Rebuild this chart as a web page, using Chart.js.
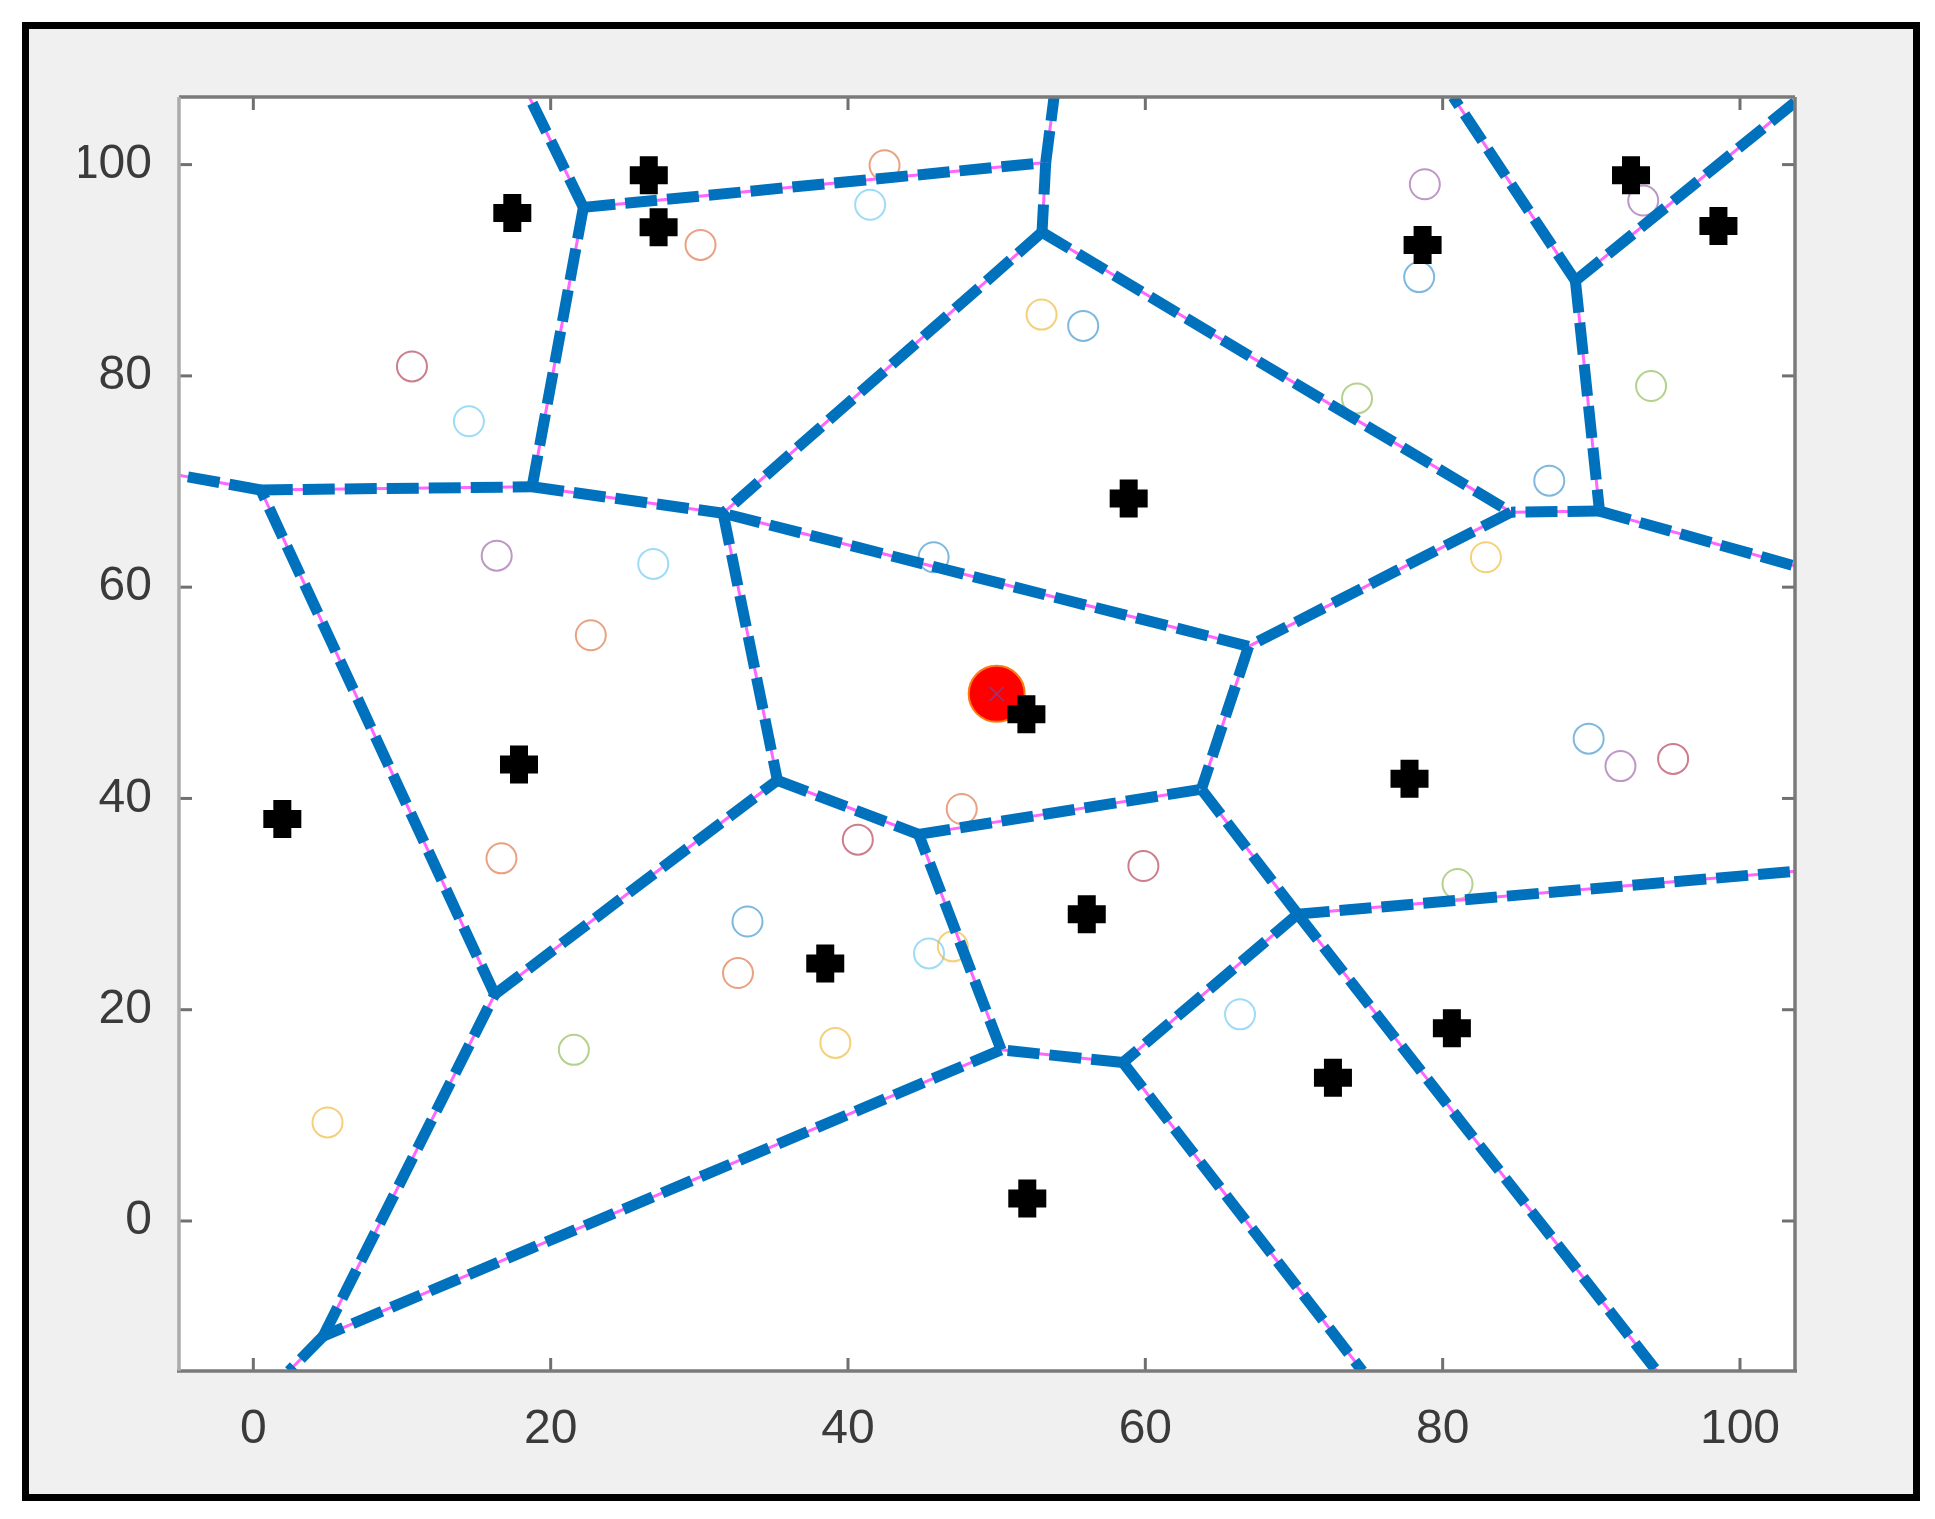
<!DOCTYPE html>
<html>
<head>
<meta charset="utf-8">
<script src="https://cdn.jsdelivr.net/npm/chart.js@4.4.1/dist/chart.umd.min.js"></script>
<style>
  html, body { margin: 0; padding: 0; background: #fff; }
  #frame {
    position: absolute; left: 22px; top: 22px; width: 1898px; height: 1479px;
    box-sizing: border-box; border: 7px solid #000; background: #f0f0f0;
  }
  #plot { position: absolute; left: 0; top: 0; }
</style>
</head>
<body>
<div id="frame"></div>
<canvas id="plot" width="1935" height="1519"></canvas>
<script>
// tick labels
const xTicks = [0, 20, 40, 60, 80, 100];
const yTicks = [0, 20, 40, 60, 80, 100];

// voronoi vertices (incl. where the open edges leave the box)
const vertexX = [22.2, 53.3, 53.05, 31.6, 84.6, 90.55, 88.93, 66.95, 63.77, 35.25, 44.75, 70.25, 58.5, 50.3, 4.7, 16.24, 0.5, 18.75,
                 18.56, 53.86, 80.7, 103.7, 103.7, 103.7, 94.4, 74.6, 2.4, -5];
const vertexY = [95.95, 100.2, 93.6, 67.0, 67.1, 67.2, 89.0, 54.4, 40.87, 41.72, 36.6, 29.05, 15.0, 16.2, -10.9, 21.45, 69.2, 69.5,
                 106.4, 106.4, 106.4, 105.9, 62.0, 33.1, -14.2, -14.2, -14.2, 70.6];
const edges = [[0,18],[0,1],[0,17],[1,19],[1,2],[2,3],[2,4],[6,20],[6,21],[6,5],[5,4],[5,22],[4,7],[7,3],[7,8],[3,9],[9,10],
               [10,8],[8,11],[11,23],[11,24],[11,12],[12,13],[12,25],[13,10],[13,14],[14,26],[14,15],[15,9],[15,16],[16,27],[16,17],[17,3]];

// black cross sites
const crossX = [17.42, 26.6, 27.26, 58.88, 78.65, 92.67, 98.55, 17.87, 1.95, 52.0, 77.77, 56.06, 38.47, 80.62, 72.62, 52.06];
const crossY = [95.43, 98.99, 94.08, 68.4, 92.4, 98.99, 94.19, 43.22, 38.05, 47.96, 41.87, 29.04, 24.38, 18.25, 13.56, 2.13];

// centre point
const centerX = [50];
const centerY = [49.9];

// hollow circles, one series per colour
const orangeX = [42.46, 30.08, 22.7, 16.69, 47.65, 32.6];
const orangeY = [99.93, 92.4, 55.45, 34.33, 39.0, 23.47];
const yellowX = [53.02, 82.91, 47.05, 39.15, 4.99];
const yellowY = [85.8, 62.83, 26.0, 16.86, 9.33];
const blueX = [55.82, 78.42, 87.17, 45.76, 89.82, 33.24];
const blueY = [84.73, 89.35, 70.08, 62.83, 45.66, 28.35];
const purpleX = [78.8, 93.49, 16.37, 91.96];
const purpleY = [98.14, 96.6, 62.98, 43.06];
const greenX = [74.24, 94.02, 81.0, 21.56];
const greenY = [77.87, 79.04, 31.9, 16.2];
const lightBlueX = [41.49, 14.5, 26.9, 45.45, 66.37];
const lightBlueY = [96.2, 75.7, 62.2, 25.33, 19.56];
const darkRedX = [10.67, 40.66, 59.87, 95.5];
const darkRedY = [80.9, 36.1, 33.6, 43.74];

function pts(xs, ys) {
  return xs.map((x, i) => ({ x: x, y: ys[i] }));
}

function circles(xs, ys, color) {
  return {
    data: pts(xs, ys),
    pointStyle: 'circle',
    pointRadius: 15,
    pointBorderWidth: 2,
    pointBorderColor: color,
    pointBackgroundColor: 'rgba(0,0,0,0)',
    showLine: false,
    order: 10
  };
}

const datasets = [];

// thin magenta line under each edge, then the thick blue dashes
edges.forEach(e => {
  const seg = pts([vertexX[e[0]], vertexX[e[1]]], [vertexY[e[0]], vertexY[e[1]]]);
  datasets.push({
    data: seg, showLine: true, pointRadius: 0,
    borderColor: '#ff66ff', borderWidth: 3, order: 8, clip: 0
  });
  datasets.push({
    data: seg, showLine: true, pointRadius: 0,
    borderColor: '#0072bd', borderWidth: 11, borderDash: [32, 10], order: 6, clip: 0
  });
});

datasets.push(circles(orangeX, orangeY, 'rgba(217,83,25,0.55)'));
datasets.push(circles(yellowX, yellowY, 'rgba(237,177,32,0.6)'));
datasets.push(circles(blueX, blueY, 'rgba(0,114,189,0.5)'));
datasets.push(circles(purpleX, purpleY, 'rgba(126,47,142,0.5)'));
datasets.push(circles(greenX, greenY, 'rgba(119,172,48,0.55)'));
datasets.push(circles(lightBlueX, lightBlueY, 'rgba(77,190,238,0.55)'));
datasets.push(circles(darkRedX, darkRedY, 'rgba(162,20,47,0.55)'));

datasets.push({
  data: pts(centerX, centerY),
  pointStyle: 'circle', pointRadius: 28, pointBorderWidth: 2,
  pointBackgroundColor: '#ff0000', pointBorderColor: '#ff7a10',
  showLine: false, order: 4
});
datasets.push({
  data: pts(centerX, centerY),
  pointStyle: 'crossRot', pointRadius: 10, pointBorderWidth: 1.5,
  pointBorderColor: '#8a3a8a', showLine: false, order: 3
});
datasets.push({
  data: pts(crossX, crossY),
  pointStyle: 'cross', pointRadius: 19, pointBorderWidth: 18,
  pointBorderColor: '#000', showLine: false, order: 2
});

// white plot area, box and inward tick marks like the original figure
const boxPlugin = {
  id: 'boxPlugin',
  beforeDraw(chart) {
    const ctx = chart.ctx, a = chart.chartArea;
    ctx.save();
    ctx.fillStyle = '#fff';
    ctx.fillRect(a.left, a.top, a.right - a.left, a.bottom - a.top);
    ctx.restore();
  },
  afterDatasetsDraw(chart) {
    const ctx = chart.ctx, a = chart.chartArea;
    const xs = chart.scales.x, ys = chart.scales.y;
    function line(x1, y1, x2, y2) {
      ctx.beginPath(); ctx.moveTo(x1, y1); ctx.lineTo(x2, y2); ctx.stroke();
    }
    ctx.save();
    ctx.lineWidth = 3;
    ctx.strokeStyle = '#707070';
    xTicks.forEach(v => {
      const p = xs.getPixelForValue(v);
      line(p, a.bottom, p, a.bottom - 13);
      line(p, a.top, p, a.top + 13);
    });
    yTicks.forEach(v => {
      const p = ys.getPixelForValue(v);
      line(a.left, p, a.left + 13, p);
      line(a.right, p, a.right - 13, p);
    });
    ctx.lineWidth = 3.5;
    ctx.strokeStyle = '#7a7a7a';
    line(a.left, a.top, a.right, a.top);
    line(a.right, a.top, a.right, a.bottom);
    line(a.left - 2, a.bottom, a.right + 2, a.bottom);
    ctx.strokeStyle = '#ababab';
    line(a.left, a.top, a.left, a.bottom);
    ctx.restore();
  }
};

const tickFont = { family: "'Liberation Sans', Arial, sans-serif", size: 48 };

new Chart(document.getElementById('plot'), {
  type: 'scatter',
  data: { datasets: datasets },
  options: {
    responsive: false,
    animation: false,
    events: [],
    layout: { autoPadding: false, padding: { left: 79, top: 97, right: 140, bottom: 48 } },
    plugins: { legend: { display: false }, tooltip: { enabled: false } },
    scales: {
      x: {
        type: 'linear', position: 'bottom', min: -5, max: 103.7,
        grid: { display: false, drawTicks: false },
        border: { display: false },
        ticks: { font: tickFont, color: '#3a3a3a', padding: 30, autoSkip: false, maxRotation: 0 },
        afterBuildTicks: s => { s.ticks = xTicks.map(v => ({ value: v })); },
        afterFit: s => { s.height = 100; }
      },
      y: {
        type: 'linear', position: 'left', min: -14.2, max: 106.4,
        grid: { display: false, drawTicks: false },
        border: { display: false },
        ticks: { font: tickFont, color: '#3a3a3a', padding: 27, autoSkip: false },
        afterBuildTicks: s => { s.ticks = yTicks.map(v => ({ value: v })); },
        afterFit: s => { s.width = 100; }
      }
    }
  },
  plugins: [boxPlugin]
});
</script>
</body>
</html>
